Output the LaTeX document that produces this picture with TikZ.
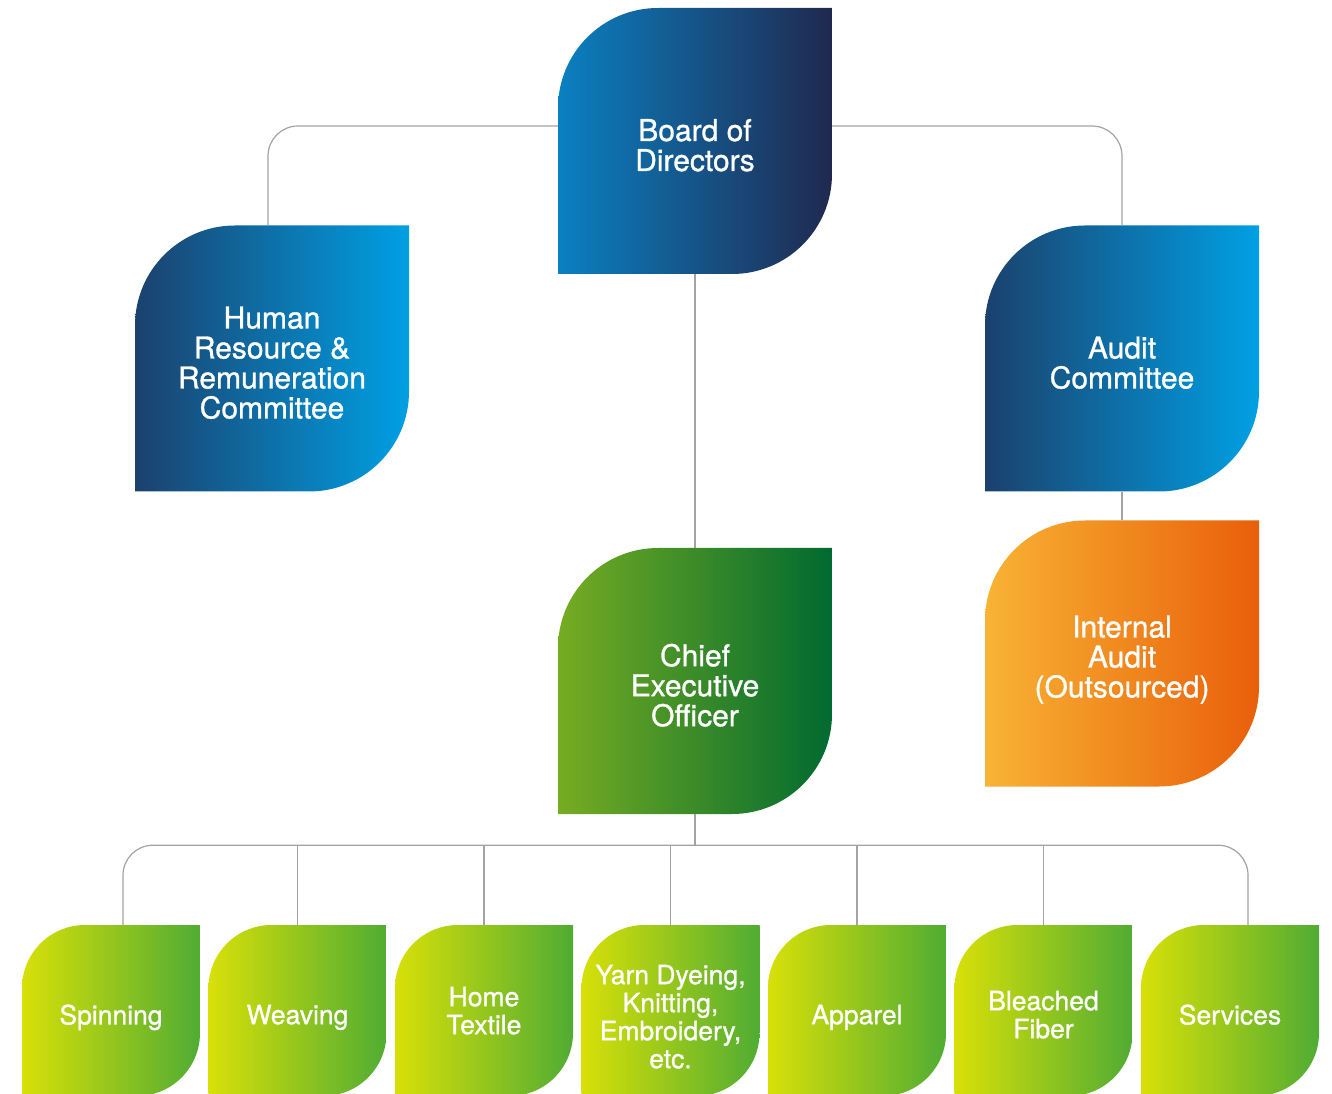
\documentclass[tikz,border=0pt]{standalone}
\usepackage{fontspec}
\setmainfont{TeX Gyre Heros}
\newfontfamily\leaffont{TeX Gyre Heros}[FakeBold=1.0]
\usetikzlibrary{positioning}
\definecolor{BoardLeft}{HTML}{0A80C1}
\definecolor{BoardRight}{HTML}{20294F}
\definecolor{CommLeft}{HTML}{1B416D}
\definecolor{CommRight}{HTML}{00A0E4}
\definecolor{AuditLeft}{HTML}{F8B334}
\definecolor{AuditRight}{HTML}{E95F0A}
\definecolor{CeoLeft}{HTML}{76AC22}
\definecolor{CeoRight}{HTML}{006A30}
\definecolor{UnitLeft}{HTML}{D8E008}
\definecolor{UnitRight}{HTML}{50AC33}
\definecolor{LinkGray}{HTML}{A3A3A3}

\begin{document}
\begin{tikzpicture}[x=1pt,y=1pt,
  leaf/.style n args={3}{path picture={
    \shade[left color=#2,right color=#3]
      (path picture bounding box.south west)
      -- ([yshift=-#1]path picture bounding box.north west)
      arc[start angle=180,end angle=90,radius=#1]
      -- (path picture bounding box.north east)
      -- ([yshift=#1]path picture bounding box.south east)
      arc[start angle=0,end angle=-90,radius=#1]
      -- cycle;}},
  bigbox/.style={minimum width=274pt,minimum height=266pt,inner sep=0pt},
  unitbox/.style={minimum width=178pt,minimum height=171pt,inner sep=0pt,
    leaf={63pt}{UnitLeft}{UnitRight}},
  bigtext/.style={align=center,text=white,text depth=0pt,yshift=-4pt,
    font=\leaffont\fontsize{30}{30}\selectfont},
  unittext/.style={align=center,text=white,text depth=0pt,yshift=-4pt,
    font=\leaffont\fontsize{26.5}{28}\selectfont},
  link/.style={draw=LinkGray,line width=1.2pt,rounded corners=30pt}]
  \useasboundingbox (0,0) rectangle (1332,1093);

  % governance
  \node[bigbox,leaf={100pt}{BoardLeft}{BoardRight},
    label={[bigtext]center:{Board of\\Directors}}] (board) at (695,952) {};
  \node[bigbox,leaf={100pt}{CommLeft}{CommRight},
    label={[bigtext]center:{Human\\Resource \&\\Remuneration\\Committee}}] (hrc) at (272,734.5) {};
  \node[bigbox,leaf={100pt}{CommLeft}{CommRight},
    label={[bigtext]center:{Audit\\Committee}}] (audit) at (1122,734.5) {};
  \node[bigbox,leaf={100pt}{AuditLeft}{AuditRight},
    label={[bigtext,yshift=1pt]center:{Internal\\Audit\\(Outsourced)}}] (internal) at (1122,439.5) {};
  \node[bigbox,leaf={100pt}{CeoLeft}{CeoRight},
    label={[bigtext]center:{Chief\\Executive\\Officer}}] (ceo) at (695,412) {};

  % business units
  \node[unitbox,label={[unittext]center:Spinning}] (spin) at (111,82.5) {};
  \node[unitbox,label={[unittext]center:Weaving}] (weave) at (297.5,82.5) {};
  \node[unitbox,label={[unittext,yshift=4pt]center:{Home\\Textile}}] (home) at (484,82.5) {};
  \node[unitbox,label={[unittext,yshift=-2pt]center:{Yarn Dyeing,\\Knitting,\\Embroidery,\\etc.}}] (yarn) at (670.5,82.5) {};
  \node[unitbox,label={[unittext]center:Apparel}] (apparel) at (857,82.5) {};
  \node[unitbox,label={[unittext]center:{Bleached\\Fiber}}] (fiber) at (1043.5,82.5) {};
  \node[unitbox,label={[unittext]center:Services}] (serv) at (1230,82.5) {};

  % reporting lines
  \coordinate (bus) at ([yshift=-31pt]ceo.south);
  \draw[link] ([yshift=15pt]board.west) -| ([xshift=-4pt]hrc.north);
  \draw[link] ([yshift=15pt]board.east) -| (audit.north);
  \draw[link] (board.south) -- (ceo.north);
  \draw[link] (audit.south) -- (internal.north);
  \draw[link] (ceo.south) -- (bus);
  \draw[link] ([xshift=12pt]spin.north) |- (bus) -| ([xshift=18pt]serv.north);
  \draw[link] (weave.north) -- (weave.north |- bus);
  \draw[link] (home.north) -- (home.north |- bus);
  \draw[link] (yarn.north) -- (yarn.north |- bus);
  \draw[link] (apparel.north) -- (apparel.north |- bus);
  \draw[link] (fiber.north) -- (fiber.north |- bus);
\end{tikzpicture}
\end{document}
